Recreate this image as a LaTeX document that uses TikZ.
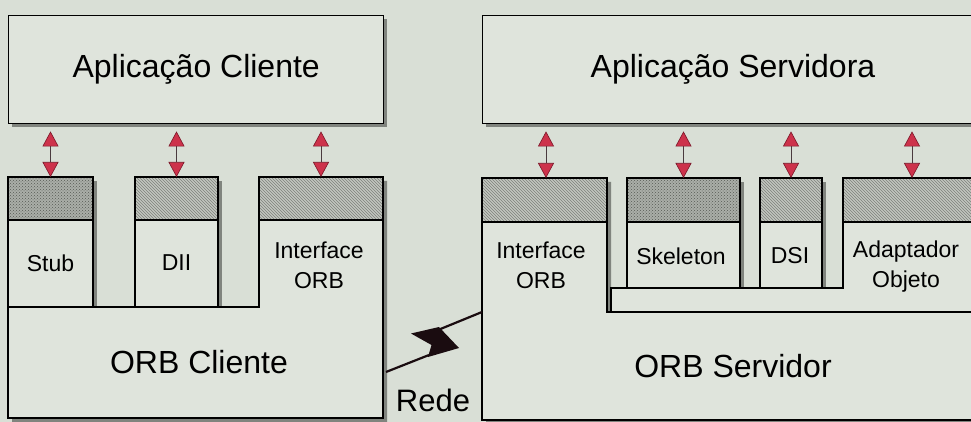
\documentclass[tikz,border=0pt]{standalone}
\usepackage{fontspec}
\setmainfont{Liberation Sans}
\usetikzlibrary{arrows.meta,patterns}
\definecolor{bg}{HTML}{D9DFD6}
\definecolor{boxfill}{HTML}{DFE4DC}
\definecolor{shadowc}{HTML}{80847E}
\definecolor{hatchbg}{HTML}{C2C6BF}
\definecolor{hatchln}{HTML}{7D817B}
\definecolor{dotbg}{HTML}{AAAEA8}
\definecolor{dotln}{HTML}{565A54}
\definecolor{arrred}{HTML}{CD324B}
\definecolor{arrdark}{HTML}{7A1628}
\definecolor{arrline}{HTML}{4A3A3E}
\definecolor{boltc}{HTML}{1A0C10}
\begin{document}
\begin{tikzpicture}[x=1pt,y=-1pt,
  outline/.style={draw=black,line width=1.4pt,line join=miter},
  shadowbox/.style={fill=shadowc},
  bodyfill/.style={fill=boxfill},
  hatchhdr/.style={fill=hatchbg,postaction={pattern=north west lines,pattern color=hatchln}},
  dothdr/.style={fill=dotbg,postaction={pattern=crosshatch dots,pattern color=dotln}},
  appbox/.style={outline,fill=boxfill,inner sep=0pt,anchor=north west,font=\fontsize{32}{36}\selectfont},
  colbox/.style={inner sep=0pt,anchor=north west,outer sep=0pt},
  biglbl/.style={font=\fontsize{32}{36}\selectfont,inner sep=0pt},
  smalllbl/.style={font=\fontsize{23}{30}\selectfont,inner sep=0pt,align=center},
  dbl/.style={{Triangle[width=16pt,length=15pt,fill=arrred,color=arrdark,line width=0.6pt]}-{Triangle[width=16pt,length=15pt,fill=arrred,color=arrdark,line width=0.6pt]},
     draw=arrline,line width=1pt,shorten >=7pt,shorten <=0pt},
  boltline/.style={draw=boltc,line width=2.2pt},
]
\fill[bg] (0,0) rectangle (971,422);
\useasboundingbox (0,0) rectangle (971,422);
\clip (0,0) rectangle (971,422);

% ---------- shadows ----------
\fill[shadowbox] (12,19) rectangle (387,127);
\fill[shadowbox] (486,19) rectangle (988,127);
\fill[shadowbox] (12,181) rectangle (97,311);
\fill[shadowbox] (139,181) rectangle (222,311);
\fill[shadowbox] (12,311) -- (263,311) -- (263,181) -- (387,181) -- (387,422) -- (12,422) -- cycle;
\fill[shadowbox] (486,182) -- (611,182) -- (611,316) -- (988,316) -- (988,424) -- (486,424) -- cycle;
\fill[shadowbox] (631,182) rectangle (744,292);
\fill[shadowbox] (764,182) rectangle (826,292);
\fill[shadowbox] (615,292) -- (847,292) -- (847,182) -- (988,182) -- (988,316) -- (615,316) -- cycle;

% ---------- application boxes ----------
\node[appbox,minimum width=375pt,minimum height=108pt] (ca) at (8,15) {};
\node[biglbl] (cal) at (ca.center) {Aplicação Cliente};
\node[appbox,minimum width=502pt,minimum height=108pt] (sa) at (482,15) {};
\node[biglbl] (sal) at (733,69) {Aplicação Servidora};

% ---------- client side ----------
\path[bodyfill] (8,307) -- (259,307) -- (259,177) -- (383,177) -- (383,418) -- (8,418) -- cycle;
\path[hatchhdr] (259,177) rectangle (383,220);
\draw[outline] (8,307) -- (259,307) -- (259,177) -- (383,177) -- (383,418) -- (8,418) -- cycle;
\draw[outline] (259,220) -- (383,220);
\coordinate (cio) at (321,177);

\node[colbox,minimum width=85pt,minimum height=130pt,fill=boxfill] (stub) at (8,177) {};
\path[dothdr] (8,177) rectangle (93,220);
\draw[outline] (8,177) rectangle (93,307);
\draw[outline] (8,220) -- (93,220);

\node[colbox,minimum width=83pt,minimum height=130pt,fill=boxfill] (dii) at (135,177) {};
\path[hatchhdr] (135,177) rectangle (218,220);
\draw[outline] (135,177) rectangle (218,307);
\draw[outline] (135,220) -- (218,220);

\node[smalllbl] (stubl) at (50.5,263) {Stub};
\node[smalllbl] (diil) at (176.5,263) {DII};
\node[smalllbl] (ciol) at (319,265) {Interface\\ORB};
\node[biglbl] (corb) at (199,362) {ORB Cliente};

% ---------- server side ----------
\path[bodyfill] (482,178) -- (607,178) -- (607,312) -- (984,312) -- (984,420) -- (482,420) -- cycle;
\path[hatchhdr] (482,178) rectangle (607,222);
\draw[outline] (482,178) -- (607,178) -- (607,312) -- (984,312) -- (984,420) -- (482,420) -- cycle;
\draw[outline] (482,222) -- (607,222);
\coordinate (sio) at (546,178);

\path[bodyfill] (611,288) -- (843,288) -- (843,178) -- (984,178) -- (984,312) -- (611,312) -- cycle;
\path[hatchhdr] (843,178) rectangle (984,222);
\draw[outline] (611,288) -- (843,288) -- (843,178) -- (984,178) -- (984,312) -- (611,312) -- cycle;
\draw[outline] (843,222) -- (984,222);
\coordinate (adp) at (912,178);

\node[colbox,minimum width=113pt,minimum height=110pt,fill=boxfill] (skel) at (627,178) {};
\path[dothdr] (627,178) rectangle (740,222);
\draw[outline] (627,178) rectangle (740,288);
\draw[outline] (627,222) -- (740,222);

\node[colbox,minimum width=62pt,minimum height=110pt,fill=boxfill] (dsi) at (760,178) {};
\path[hatchhdr] (760,178) rectangle (822,222);
\draw[outline] (760,178) rectangle (822,288);
\draw[outline] (760,222) -- (822,222);

\node[smalllbl] (siol) at (541,265) {Interface\\ORB};
\node[smalllbl] (skell) at (681,256) {Skeleton};
\node[smalllbl] (dsil) at (790,256) {DSI};
\node[smalllbl] (adpl) at (906,267) {Adaptador\\Objeto};
\node[biglbl] (sorb) at (733,366) {ORB Servidor};

% ---------- arrows ----------
\draw[dbl] (stub.north) -- (stub.north |- ca.south);
\draw[dbl] (dii.north) -- (dii.north |- ca.south);
\draw[dbl] (cio) -- (cio |- ca.south);
\draw[dbl] (sio) -- (sio |- sa.south);
\draw[dbl] (skel.north) -- (skel.north |- sa.south);
\draw[dbl] (dsi.north) -- (dsi.north |- sa.south);
\draw[dbl] (adp) -- (adp |- sa.south);

% ---------- network ----------
\coordinate (nl) at (386,372);
\coordinate (nr) at (482,312);
\draw[boltline] (nl) -- (429,355);
\draw[boltline] (nr) -- (438,330);
\fill[boltc] (411,333.5) -- (439,327) -- (459,348) -- (428,357) -- (431.5,345) -- cycle;
\node[biglbl,font=\fontsize{31}{36}\selectfont] (rede) at (433,400) {Rede};
\end{tikzpicture}
\end{document}
